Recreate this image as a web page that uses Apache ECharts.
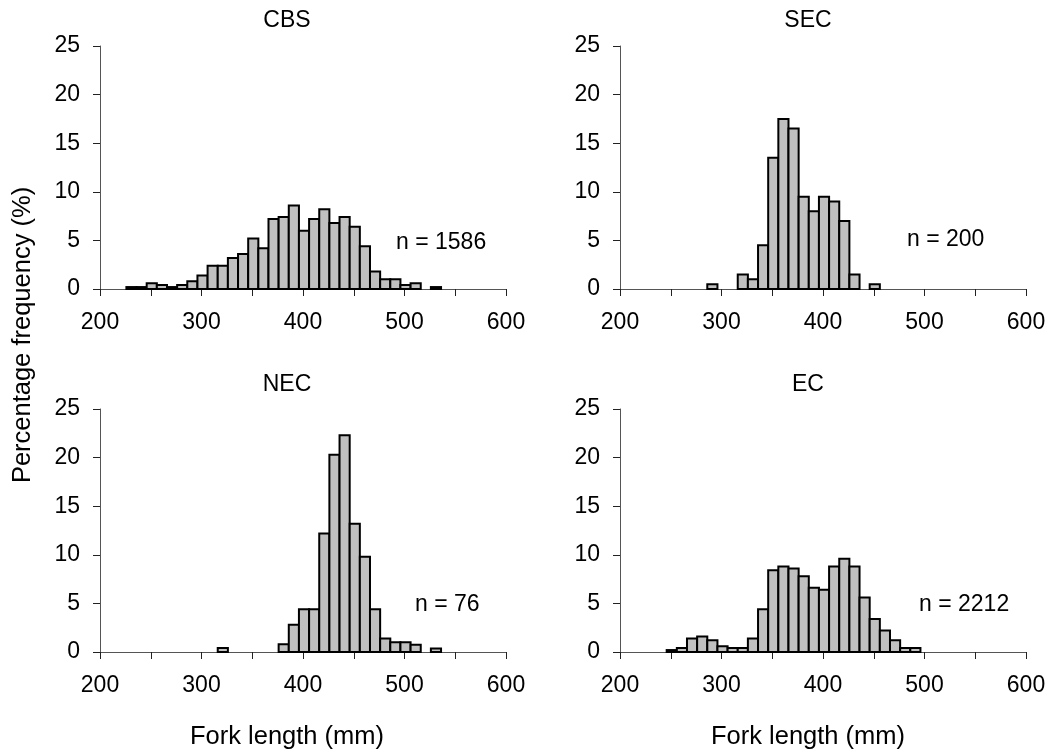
<!DOCTYPE html>
<html>
<head>
<meta charset="utf-8">
<script src="https://cdn.jsdelivr.net/npm/echarts@6/dist/echarts.min.js"></script>
<style>
html,body{margin:0;padding:0;background:#fff;}
#chart{width:1053px;height:754px;}
</style>
</head>
<body>
<div id="chart"></div>
<script>
// Bin centres (mm), shared by all four panels
const binCenters = [231,241,251,261,271,281,291,301,311,321,331,341,351,361,371,381,391,401,411,421,431,441,451,461,471,481,491,501,511,521,531];
const binHalfWidth = 5;

// Percentage frequency per bin
const cbs = [0.2,0.2,0.6,0.4,0.2,0.4,0.8,1.4,2.4,2.4,3.2,3.6,5.2,4.2,7.2,7.4,8.6,6.0,7.2,8.2,6.8,7.4,6.4,4.4,1.8,1.0,1.0,0.4,0.6,null,0.2];
const sec = [null,null,null,null,null,null,0.5,null,null,1.5,1.0,4.5,13.5,17.5,16.5,9.5,8.0,9.5,9.0,7.0,1.5,null,0.5,null,null,null,null,null,null,null,null];
const nec = [null,null,null,null,null,null,null,null,null,0.4,null,null,null,null,null,0.8,2.8,4.4,4.4,12.2,20.3,22.3,13.2,9.8,4.4,1.4,1.0,1.0,0.75,null,0.35];
const ec  = [null,null,0.2,0.4,1.4,1.6,1.2,0.6,0.4,0.4,1.4,4.4,8.4,8.8,8.6,7.8,6.6,6.4,8.8,9.6,8.8,5.6,3.4,2.2,1.2,0.4,0.4,null,null,null,null];

const panelTitles = ['CBS','SEC','NEC','EC'];
const sampleSizes = ['n = 1586','n = 200','n = 76','n = 2212'];
const xTickLabels = [200,300,400,500,600];
const yTickLabels = [0,5,10,15,20,25];
const yAxisTitle = 'Percentage frequency (%)';
const xAxisTitle = 'Fork length (mm)';

const FONT = "'Liberation Sans', Arial, sans-serif";
const FS = 23;
const FS_AXIS = 25.5;
const panels = [cbs, sec, nec, ec];

const grids = [
  {left:100, top:46, width:406, height:243},
  {left:620, top:46, width:406, height:243},
  {left:100, top:409, width:406, height:243},
  {left:620, top:409, width:406, height:243}
];

const axisColor = '#555';
const xAxes = grids.map((g,i)=>({
  type:'value', gridIndex:i, min:200, max:600, interval:50,
  axisLine:{show:true, onZero:false, lineStyle:{color:axisColor, width:1}},
  axisTick:{show:true, inside:false, length:7, lineStyle:{color:'#222', width:1}},
  splitLine:{show:false},
  axisLabel:{margin:22, color:'#000', fontFamily:FONT, fontSize:FS,
    formatter:v=> xTickLabels.indexOf(v)>=0 ? String(v) : ''}
}));
const yAxes = grids.map((g,i)=>({
  type:'value', gridIndex:i, min:0, max:25, interval:5,
  axisLine:{show:true, lineStyle:{color:axisColor, width:1}},
  axisTick:{show:true, inside:false, length:7, lineStyle:{color:'#222', width:1}},
  splitLine:{show:false},
  axisLabel:{margin:20, color:'#000', fontFamily:FONT, fontSize:FS,
    formatter:v=> yTickLabels.indexOf(v)>=0 ? String(v) : ''}
}));

function renderBar(params, api){
  const x = api.value(0), v = api.value(1);
  if (v == null || isNaN(v)) return null;
  const p0 = api.coord([x - binHalfWidth, 0]);
  const p1 = api.coord([x + binHalfWidth, v]);
  return {
    type:'rect',
    shape:{x:p0[0], y:p1[1], width:p1[0]-p0[0], height:p0[1]-p1[1]},
    style:{fill:'#c0c0c0', stroke:'#000', lineWidth:2}
  };
}

const series = panels.map((vals,i)=>({
  type:'custom', xAxisIndex:i, yAxisIndex:i,
  renderItem:renderBar,
  data: binCenters.map((c,k)=>[c, vals[k]]).filter(d=>d[1]!=null),
  encode:{x:0, y:1},
  silent:true
}));

const titlePos = [[287,21],[808,21],[287,385],[808,385]];
const nPos = [[396,243],[907,240],[415,605],[919,605]];
const textStyle = (t,align,fs)=>({text:t, fill:'#000', font:`${fs||FS}px ${FONT}`, align:align, verticalAlign:'middle'});

const graphics = [];
panelTitles.forEach((t,i)=>graphics.push({type:'text', x:titlePos[i][0], y:titlePos[i][1], style:textStyle(t,'center')}));
sampleSizes.forEach((t,i)=>graphics.push({type:'text', x:nPos[i][0], y:nPos[i][1], style:textStyle(t,'left')}));
graphics.push({type:'text', x:287, y:737, style:textStyle(xAxisTitle,'center',FS_AXIS)});
graphics.push({type:'text', x:808, y:737, style:textStyle(xAxisTitle,'center',FS_AXIS)});
graphics.push({type:'text', x:23, y:335, rotation:Math.PI/2, style:textStyle(yAxisTitle,'center',FS_AXIS)});

const chart = echarts.init(document.getElementById('chart'), null, {renderer:'canvas'});
chart.setOption({
  animation:false,
  backgroundColor:'#fff',
  grid:grids,
  xAxis:xAxes,
  yAxis:yAxes,
  series:series,
  graphic:graphics
});
</script>
</body>
</html>
